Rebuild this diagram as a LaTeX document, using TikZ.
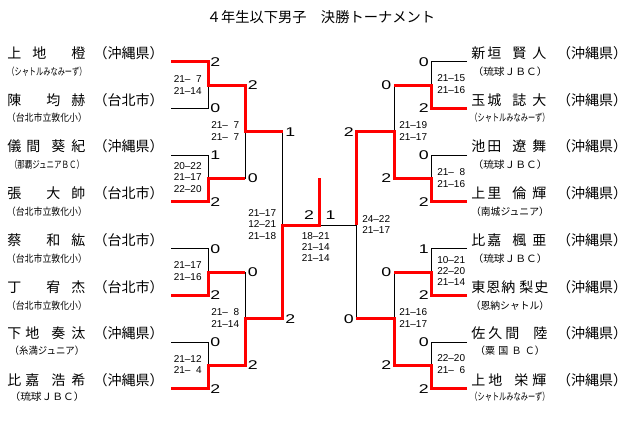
\documentclass[tikz,border=0pt]{standalone}
\usepackage{fontspec}
\usepackage{graphicx}
\setmainfont{Liberation Sans}
\newfontfamily\jp{Noto Sans CJK JP}
\newlength\px \setlength\px{0.75pt}
\newcommand\slotc[2]{\makebox[#1\px][l]{#2}}
\newcommand\scoredig[1]{\scalebox{1.4}[1]{#1}}
\newcommand\clubsq[2]{\scalebox{#1}[1]{#2}}
\tikzset{
 nm/.style={font=\jp\fontsize{10.5pt}{12pt}\selectfont, inner sep=0pt, anchor=west},
 pref/.style={font=\jp\fontsize{10.5pt}{12pt}\selectfont, inner sep=0pt},
 club/.style={font=\jp\fontsize{7.5pt}{9pt}\selectfont, inner sep=0pt},
 ttl/.style={font=\jp\fontsize{10.7pt}{12pt}\selectfont, inner sep=0pt},
 scw/.style={font=\fontsize{9.5pt}{11pt}\selectfont, inner sep=0pt, anchor=west},
 sce/.style={font=\fontsize{9.5pt}{11pt}\selectfont, inner sep=0pt, anchor=east},
 scc/.style={font=\fontsize{9.5pt}{11pt}\selectfont, inner sep=0pt},
 ms/.style={font=\fontsize{7.5pt}{8.6pt}\selectfont, inner sep=0pt, align=left, anchor=west},
 win/.style={draw=red, line width=2.25pt},
 lose/.style={draw=black, line width=0.75pt},
}
\begin{document}
\begin{tikzpicture}[x=0.75pt,y=-0.75pt]
\fill[white] (0,0) rectangle (640,437);
\useasboundingbox (0,0) rectangle (640,437);

% title
\node[ttl] (title) at (321,17) {４年生以下男子　決勝トーナメント};

% player line coordinates
\coordinate (L1) at (171,61.7);  \coordinate (R1) at (467,61.7);
\coordinate (L2) at (171,108.4); \coordinate (R2) at (467,108.4);
\coordinate (L3) at (171,155.2); \coordinate (R3) at (467,155.2);
\coordinate (L4) at (171,201.9); \coordinate (R4) at (467,201.9);
\coordinate (L5) at (171,248.7); \coordinate (R5) at (467,248.7);
\coordinate (L6) at (171,295.4); \coordinate (R6) at (467,295.4);
\coordinate (L7) at (171,342.2); \coordinate (R7) at (467,342.2);
\coordinate (L8) at (171,388.9); \coordinate (R8) at (467,388.9);
% junctions
\coordinate (a1) at (208.5,85);   \coordinate (f1) at (431.5,85);
\coordinate (a2) at (208.5,178.5);\coordinate (f2) at (431.5,178.5);
\coordinate (a3) at (208.5,272);  \coordinate (f3) at (431.5,272);
\coordinate (a4) at (208.5,365.5);\coordinate (f4) at (431.5,365.5);
\coordinate (b1) at (245,131.7);  \coordinate (e1) at (394,131.7);
\coordinate (b2) at (245,318.7);  \coordinate (e2) at (394,318.7);
\coordinate (c) at (282.5,225.2);
\coordinate (d) at (356,225.2);
\coordinate (F) at (319.3,225.2);
\coordinate (T) at (319.3,178);

% losing (black) lines
\draw[lose] (L2) -- (L2 -| a1) -- (a1);
\draw[lose] (L3) -- (L3 -| a2) -- (a2);
\draw[lose] (a2 -| b1) -- (b1);
\draw[lose] (L5) -- (L5 -| a3) -- (a3);
\draw[lose] (a3 -| b2) -- (b2);
\draw[lose] (L7) -- (L7 -| a4) -- (a4);
\draw[lose] (b1 -| c) -- (c);
\draw[lose] (F) -- (d);
\draw[lose] (R1) -- (R1 -| f1) -- (f1);
\draw[lose] (f1 -| e1) -- (e1);
\draw[lose] (R3) -- (R3 -| f2) -- (f2);
\draw[lose] (R5) -- (R5 -| f3) -- (f3);
\draw[lose] (f3 -| e2) -- (e2);
\draw[lose] (R7) -- (R7 -| f4) -- (f4);
\draw[lose] (e2 -| d) -- (d);

% winning (red) lines
\draw[win] (L1) -- (L1 -| a1) -- (a1) -- (a1 -| b1) -- (b1) -- (b1 -| c);
\draw[win] (L4) -- (L4 -| a2) -- (a2) -- (a2 -| b1);
\draw[win] (L6) -- (L6 -| a3) -- (a3) -- (a3 -| b2);
\draw[win] (L8) -- (L8 -| a4) -- (a4) -- (a4 -| b2) -- (b2) -- (b2 -| c) -- (c) -- (F) -- (T);
\draw[win] (R2) -- (R2 -| f1) -- (f1) -- (f1 -| e1);
\draw[win] (R4) -- (R4 -| f2) -- (f2) -- (f2 -| e1) -- (e1) -- (e1 -| d) -- (d);
\draw[win] (R6) -- (R6 -| f3) -- (f3) -- (f3 -| e2);
\draw[win] (R8) -- (R8 -| f4) -- (f4) -- (f4 -| e2) -- (e2) -- (e2 -| d);

% left names
\node[nm] (nL1) at (7,53)    {\slotc{25}{上}\slotc{39}{地}橙};
\node[nm] (nL2) at (7,99.7)  {\slotc{39}{陳}\slotc{25}{均}赫};
\node[nm] (nL3) at (7,146.5) {\slotc{19}{儀}\slotc{25}{間}\slotc{20}{葵}紀};
\node[nm] (nL4) at (7,193.2) {\slotc{39}{張}\slotc{25}{大}帥};
\node[nm] (nL5) at (7,240)   {\slotc{39}{蔡}\slotc{25}{和}紘};
\node[nm] (nL6) at (7,286.7) {\slotc{39}{丁}\slotc{25}{宥}杰};
\node[nm] (nL7) at (7,333.5) {\slotc{18}{下}\slotc{26}{地}\slotc{20}{奏}汰};
\node[nm] (nL8) at (7,380.2) {\slotc{18}{比}\slotc{26}{嘉}\slotc{20}{浩}希};
% left prefectures
\node[pref] (pL1) at (128.5,53)    {（沖縄県）};
\node[pref] (pL2) at (128.5,99.7)  {（台北市）};
\node[pref] (pL3) at (128.5,146.5) {（沖縄県）};
\node[pref] (pL4) at (128.5,193.2) {（台北市）};
\node[pref] (pL5) at (128.5,240)   {（台北市）};
\node[pref] (pL6) at (128.5,286.7) {（台北市）};
\node[pref] (pL7) at (128.5,333.5) {（沖縄県）};
\node[pref] (pL8) at (128.5,380.2) {（沖縄県）};
% left clubs
\node[club] (kL1) at (47,72)  {\clubsq{0.72}{（シャトルみなみーず）}};
\node[club] (kL2) at (47,118) {\clubsq{0.89}{（台北市立敦化小）}};
\node[club] (kL3) at (47,165) {\clubsq{0.75}{（那覇ジュニアＢＣ）}};
\node[club] (kL4) at (47,212) {\clubsq{0.89}{（台北市立敦化小）}};
\node[club] (kL5) at (47,259) {\clubsq{0.89}{（台北市立敦化小）}};
\node[club] (kL6) at (47,306) {\clubsq{0.89}{（台北市立敦化小）}};
\node[club] (kL7) at (47,351) {\clubsq{0.94}{（糸満ジュニア）}};
\node[club] (kL8) at (47,397) {\clubsq{1.07}{（琉球ＪＢＣ）}};

% right names
\node[nm] (nR1) at (471,53)    {\slotc{16}{新}\slotc{25}{垣}\slotc{20}{賢}人};
\node[nm] (nR2) at (471,99.7)  {\slotc{16}{玉}\slotc{25}{城}\slotc{20}{誌}大};
\node[nm] (nR3) at (471,146.5) {\slotc{16}{池}\slotc{25}{田}\slotc{20}{遼}舞};
\node[nm] (nR4) at (471,193.2) {\slotc{16}{上}\slotc{25}{里}\slotc{20}{倫}輝};
\node[nm] (nR5) at (471,240)   {\slotc{16}{比}\slotc{25}{嘉}\slotc{20}{楓}亜};
\node[nm] (nR6) at (471,286.7) {\slotc{15}{東}\slotc{15}{恩}\slotc{18}{納}\slotc{15}{梨}史};
\node[nm] (nR7) at (471,333.5) {\slotc{17}{佐}\slotc{17}{久}\slotc{28}{間}陸};
\node[nm] (nR8) at (471,380.2) {\slotc{17}{上}\slotc{26}{地}\slotc{18}{栄}輝};
% right prefectures
\node[pref] (pR1) at (592,53)    {（沖縄県）};
\node[pref] (pR2) at (592,99.7)  {（沖縄県）};
\node[pref] (pR3) at (592,146.5) {（沖縄県）};
\node[pref] (pR4) at (592,193.2) {（沖縄県）};
\node[pref] (pR5) at (592,240)   {（沖縄県）};
\node[pref] (pR6) at (592,286.7) {（沖縄県）};
\node[pref] (pR7) at (592,333.5) {（沖縄県）};
\node[pref] (pR8) at (592,380.2) {（沖縄県）};
% right clubs
\node[club] (kR1) at (510,72)  {\clubsq{1.07}{（琉球ＪＢＣ）}};
\node[club] (kR2) at (510,118) {\clubsq{0.72}{（シャトルみなみーず）}};
\node[club] (kR3) at (510,165) {\clubsq{1.07}{（琉球ＪＢＣ）}};
\node[club] (kR4) at (510,212) {\clubsq{0.98}{（南城ジュニア）}};
\node[club] (kR5) at (510,259) {\clubsq{1.07}{（琉球ＪＢＣ）}};
\node[club] (kR6) at (510,306) {\clubsq{0.98}{（恩納シャトル）}};
\node[club] (kR7) at (510,351) {（粟\kern2.4pt 国\kern2.4pt Ｂ\kern2.4pt Ｃ）};
\node[club] (kR8) at (510,397) {\clubsq{0.72}{（シャトルみなみーず）}};

% game counts, left
\node[scw] (gL1) at (210,61.7)  {\scoredig{2}};
\node[scw] (gL2) at (210,108.4) {\scoredig{0}};
\node[scw] (gL3) at (210,155.2) {\scoredig{1}};
\node[scw] (gL4) at (210,201.9) {\scoredig{2}};
\node[scw] (gL5) at (210,248.7) {\scoredig{0}};
\node[scw] (gL6) at (210,295.4) {\scoredig{2}};
\node[scw] (gL7) at (210,342.2) {\scoredig{0}};
\node[scw] (gL8) at (210,388.9) {\scoredig{2}};
\node[scw] (hL1) at (247.5,85)    {\scoredig{2}};
\node[scw] (hL2) at (247.5,178.5) {\scoredig{0}};
\node[scw] (hL3) at (247.5,272)   {\scoredig{0}};
\node[scw] (hL4) at (247.5,365.5) {\scoredig{2}};
\node[scw] (iL1) at (285,131.7) {\scoredig{1}};
\node[scw] (iL2) at (285,318.7) {\scoredig{2}};
% final
\node[scc] (fin1) at (309,215)   {\scoredig{2}};
\node[scc] (fin2) at (330.5,215) {\scoredig{1}};
% game counts, right
\node[sce] (iR1) at (354,131.7) {\scoredig{2}};
\node[sce] (iR2) at (354,318.7) {\scoredig{0}};
\node[sce] (hR1) at (391.5,85)    {\scoredig{0}};
\node[sce] (hR2) at (391.5,178.5) {\scoredig{2}};
\node[sce] (hR3) at (391.5,272)   {\scoredig{0}};
\node[sce] (hR4) at (391.5,365.5) {\scoredig{2}};
\node[sce] (gR1) at (429,61.7)  {\scoredig{0}};
\node[sce] (gR2) at (429,108.4) {\scoredig{2}};
\node[sce] (gR3) at (429,155.2) {\scoredig{0}};
\node[sce] (gR4) at (429,201.9) {\scoredig{2}};
\node[sce] (gR5) at (429,248.7) {\scoredig{1}};
\node[sce] (gR6) at (429,295.4) {\scoredig{2}};
\node[sce] (gR7) at (429,342.2) {\scoredig{0}};
\node[sce] (gR8) at (429,388.9) {\scoredig{2}};

% match scores
\node[ms] (mL1) at (173.5,85)    {21–\phantom{1}7\\21–14};
\node[ms] (mL2) at (173.5,177.5) {20–22\\21–17\\22–20};
\node[ms] (mL3) at (173.5,271)   {21–17\\21–16};
\node[ms] (mL4) at (173.5,364.5) {21–12\\21–\phantom{1}4};
\node[ms] (mL5) at (211,131.2)   {21–\phantom{1}7\\21–\phantom{1}7};
\node[ms] (mL6) at (211,318)     {21–\phantom{1}8\\21–14};
\node[ms] (mL7) at (248,224.5)   {21–17\\12–21\\21–18};
\node[ms] (mF)  at (301.5,247)   {18–21\\21–14\\21–14};
\node[ms] (mR7) at (362,224.5)   {24–22\\21–17};
\node[ms] (mR5) at (399,131)     {21–19\\21–17};
\node[ms] (mR6) at (399,318)     {21–16\\21–17};
\node[ms] (mR1) at (437,84)      {21–15\\21–16};
\node[ms] (mR2) at (437,178)     {21–\phantom{1}8\\21–16};
\node[ms] (mR3) at (437,271)     {10–21\\22–20\\21–14};
\node[ms] (mR4) at (437,364)     {22–20\\21–\phantom{1}6};
\end{tikzpicture}
\end{document}
